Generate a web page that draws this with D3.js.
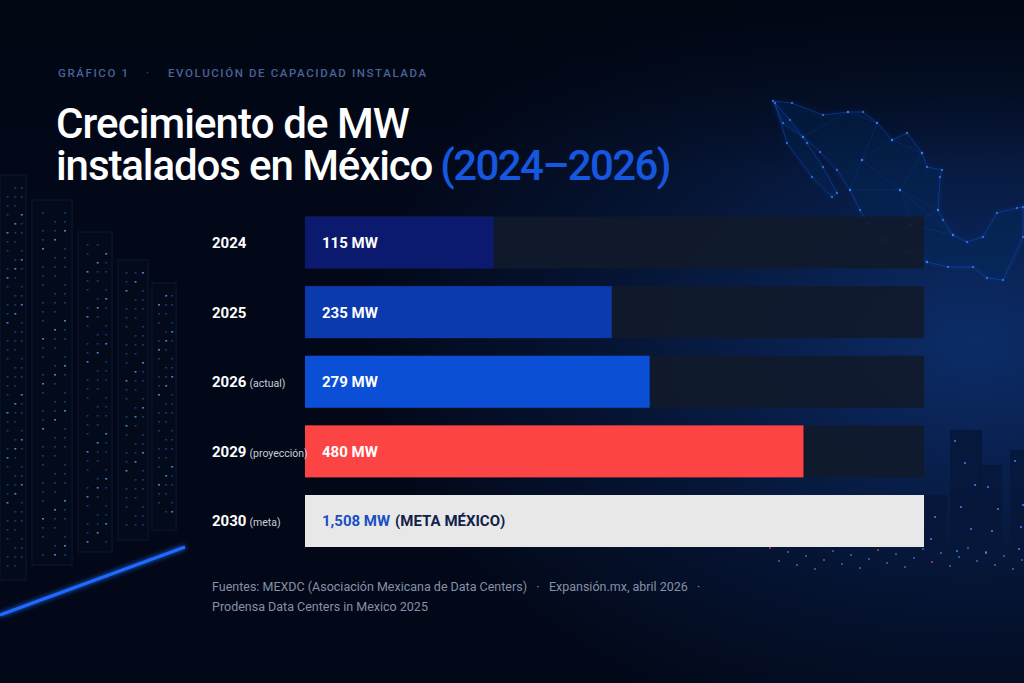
<!DOCTYPE html>
<html>
<head>
<meta charset="utf-8">
<script src="https://cdn.jsdelivr.net/npm/d3@7"></script>
<style>
  html, body { margin: 0; padding: 0; background: #020818; }
  svg { display: block; font-family: Roboto, "Noto Sans", sans-serif; }
  .pre { white-space: pre; }
</style>
</head>
<body>
<div id="chart"></div>
<script>
// data
var years = ['2024', '2025', '2026', '2029', '2030']
var yearNotes = ['', '', '(actual)', '(proyección)', '(meta)']
var valuesMW = [115, 235, 279, 480, 1508]
var valueLabels = ['115 MW', '235 MW', '279 MW', '480 MW', '1,508 MW']
var valueNotes = ['', '', '', '', '(META MÉXICO)']
var barColors = ['#0b1a6e', '#0a3aae', '#0a4fd6', '#fd4444', '#e8e8e8']

var W = 1024, H = 683

var svg = d3.select('#chart')
  .append('svg')
  .attr('width', W)
  .attr('height', H)

var defs = svg.append('defs')

// ---- background ----
var bg = defs.append('radialGradient').attr('id', 'bgGlow')
  .attr('cx', 0.95).attr('cy', 0.5).attr('r', 0.6)
bg.append('stop').attr('offset', 0).attr('stop-color', '#0c2c68')
bg.append('stop').attr('offset', 0.55).attr('stop-color', '#061637')
bg.append('stop').attr('offset', 1).attr('stop-color', '#020818')

svg.append('rect').attr('width', W).attr('height', H).attr('fill', '#020818')
svg.append('rect').attr('width', W).attr('height', H).attr('fill', 'url(#bgGlow)')

var topShade = defs.append('linearGradient').attr('id', 'topShade')
  .attr('x1', 0).attr('x2', 0).attr('y1', 0).attr('y2', 1)
topShade.append('stop').attr('offset', 0).attr('stop-color', '#010612').attr('stop-opacity', 0.9)
topShade.append('stop').attr('offset', 0.25).attr('stop-color', '#010612').attr('stop-opacity', 0)
svg.append('rect').attr('width', W).attr('height', H).attr('fill', 'url(#topShade)')

var glow = defs.append('filter').attr('id', 'glow')
  .attr('x', '-50%').attr('y', '-50%').attr('width', '200%').attr('height', '200%')
glow.append('feGaussianBlur').attr('stdDeviation', 2.5).attr('result', 'b')
var gm = glow.append('feMerge')
gm.append('feMergeNode').attr('in', 'b')
gm.append('feMergeNode').attr('in', 'SourceGraphic')

var deco = svg.append('g').attr('class', 'deco')

// map of Mexico top right (decoration, rough outline)
var mainland = [[773,101],[792,103],[823,115],[848,112],[863,112],[877,123],[892,140],[907,133],
  [922,153],[927,167],[942,170],[940,177],[938,210],[943,220],[953,235],[967,242],[983,237],
  [997,213],[1017,208],[1023,207],[1023,237],[1003,280],[987,278],[973,267],[948,267],[927,262],
  [907,252],[883,240],[867,223],[860,210],[850,190],[837,170],[820,152],[803,137],[783,123]]
var baja = [[775,103],[787,143],[812,177],[832,197],[837,193],[823,167],[807,143],[790,120]]
var inner = [[803,137],[848,112],[877,123],[862,160],[892,140],[922,153],[900,190],[862,160],
  [850,190],[900,190],[938,210],[910,225],[883,240],[910,225],[953,235],[900,190],[927,262]]
;[mainland, baja].forEach(function(pts) {
  deco.append('path')
    .attr('d', d3.line().curve(d3.curveLinearClosed)(pts))
    .attr('fill', '#0a2458').attr('fill-opacity', 0.2)
    .attr('stroke', '#1d5ad8').attr('stroke-opacity', 0.4).attr('stroke-width', 0.9)
    .attr('filter', 'url(#glow)')
})
deco.append('path')
  .attr('d', d3.line()(inner))
  .attr('fill', 'none').attr('stroke', '#1d5ad8').attr('stroke-opacity', 0.22).attr('stroke-width', 0.7)
deco.selectAll('.mapdot')
  .data(mainland.concat(baja, inner))
  .enter().append('circle')
  .attr('cx', function(d) { return d[0] }).attr('cy', function(d) { return d[1] })
  .attr('r', 1.2).attr('fill', '#3f86ff').attr('opacity', 0.7)

// server racks on the left (decoration)
var racks = [
  {x0: 0, x1: 26, top: 175, bot: 580},
  {x0: 32, x1: 72, top: 200, bot: 565},
  {x0: 78, x1: 112, top: 232, bot: 552},
  {x0: 118, x1: 148, top: 260, bot: 540},
  {x0: 152, x1: 176, top: 283, bot: 530}
]
racks.forEach(function(r, i) {
  deco.append('rect')
    .attr('x', r.x0).attr('y', r.top)
    .attr('width', r.x1 - r.x0).attr('height', r.bot - r.top)
    .attr('fill', '#030a1a').attr('stroke', '#08152e').attr('stroke-width', 1.5)
  for (var y = r.top + 12, k = 0; y < r.bot - 10; y += 9, k++) {
    var cols = [0.25, 0.55, 0.8]
    cols.forEach(function(c, j) {
      if ((k * 7 + j * 3 + i * 5) % 4 === 0) return
      deco.append('rect')
        .attr('x', r.x0 + (r.x1 - r.x0) * c).attr('y', y)
        .attr('width', 2).attr('height', 1.6)
        .attr('fill', (k + j + i) % 5 === 0 ? '#4aa0ff' : '#17448c')
        .attr('opacity', 0.8)
    })
  }
})
deco.append('line')
  .attr('x1', 0).attr('y1', 615).attr('x2', 185).attr('y2', 547)
  .attr('stroke', '#1f6bff').attr('stroke-width', 3)
  .attr('filter', 'url(#glow)')

// city skyline lower right (decoration)
var towers = [
  {x: 950, w: 32, top: 430},
  {x: 978, w: 24, top: 465},
  {x: 1010, w: 20, top: 450},
  {x: 925, w: 22, top: 495}
]
towers.forEach(function(t, i) {
  deco.append('rect').attr('x', t.x).attr('y', t.top)
    .attr('width', t.w).attr('height', 560 - t.top)
    .attr('fill', '#07173a').attr('opacity', 0.9)
  for (var y = t.top + 10, k = 0; y < 555; y += 11, k++) {
    if ((k + i) % 2 === 0) {
      deco.append('rect').attr('x', t.x + 4 + (k * 5 % (t.w - 8))).attr('y', y)
        .attr('width', 2).attr('height', 2).attr('fill', '#3a7cff').attr('opacity', 0.8)
    }
  }
})
for (var cx = 770, n = 0; cx < 1024; cx += 9, n++) {
  deco.append('circle')
    .attr('cx', cx).attr('cy', 548 + (n * 13 % 22))
    .attr('r', 1).attr('fill', n % 6 === 0 ? '#ff5a4a' : '#4d8cff')
    .attr('opacity', 0.7)
}

// ---- header ----
svg.append('text')
  .attr('x', 58).attr('y', 77)
  .attr('font-size', 11.5).attr('letter-spacing', 1.6)
  .attr('font-weight', 500)
  .attr('fill', '#4a6295')
  .text('GRÁFICO 1')
svg.append('text')
  .attr('x', 146).attr('y', 77)
  .attr('font-size', 11.5).attr('fill', '#4a6295')
  .text('·')
svg.append('text')
  .attr('x', 168).attr('y', 77)
  .attr('font-size', 11.5).attr('letter-spacing', 1.6)
  .attr('font-weight', 500)
  .attr('fill', '#4a6295')
  .text('EVOLUCIÓN DE CAPACIDAD INSTALADA')

svg.append('text')
  .attr('x', 56).attr('y', 138)
  .attr('font-size', 42).attr('font-weight', 500).attr('letter-spacing', -0.9)
  .attr('fill', '#ffffff')
  .text('Crecimiento de MW')
var t2 = svg.append('text')
  .attr('x', 56).attr('y', 180)
  .attr('font-size', 42).attr('font-weight', 500).attr('letter-spacing', -1.1)
  .attr('fill', '#ffffff')
t2.append('tspan').text('instalados en México')
t2.append('tspan').attr('dx', 8).attr('letter-spacing', -1.6)
  .attr('fill', '#1657e0').text('(2024–2026)')

// ---- chart ----
var x0 = 305, trackW = 619

var y_scale = d3.scaleBand()
  .domain(years)
  .range([216.5, 547])
  .paddingInner(0.253)

var x_scale = d3.scalePow()
  .exponent(0.68)
  .domain([0, 660])
  .range([0, trackW])
  .clamp(true)

var rows = svg.selectAll('.row')
  .data(years)
  .enter()
  .append('g')
  .attr('class', 'row')
  .attr('transform', function(d) { return 'translate(0,' + y_scale(d) + ')' })

rows.append('rect')
  .attr('x', x0).attr('y', 0)
  .attr('width', trackW)
  .attr('height', y_scale.bandwidth())
  .attr('fill', '#111a2b')
  .attr('opacity', 0.92)

rows.append('rect')
  .attr('x', x0).attr('y', 0)
  .attr('width', function(d, i) { return x_scale(valuesMW[i]) })
  .attr('height', y_scale.bandwidth())
  .attr('fill', function(d, i) { return barColors[i] })

// year labels
var yl = rows.append('text')
  .attr('x', 212)
  .attr('y', y_scale.bandwidth() / 2 + 5.5)
  .attr('fill', '#ffffff')
yl.append('tspan')
  .attr('font-size', 15).attr('font-weight', 700)
  .text(function(d) { return d })
yl.append('tspan')
  .attr('font-size', 10.5).attr('fill', '#c9ceda')
  .attr('dx', 3)
  .text(function(d, i) { return yearNotes[i] })

// value labels
var vl = rows.append('text')
  .attr('x', x0 + 17)
  .attr('y', y_scale.bandwidth() / 2 + 5.5)
  .attr('font-size', 15).attr('font-weight', 700)
vl.append('tspan')
  .attr('fill', function(d, i) { return i === 4 ? '#1a4fc4' : '#ffffff' })
  .text(function(d, i) { return valueLabels[i] })
vl.append('tspan')
  .attr('fill', '#13204a')
  .attr('dx', 5)
  .text(function(d, i) { return valueNotes[i] })

// ---- sources ----
var src = svg.append('text')
  .attr('class', 'pre')
  .attr('font-size', 12.5).attr('fill', '#8790a6')
src.append('tspan').attr('x', 212).attr('y', 591)
  .text('Fuentes: MEXDC (Asociación Mexicana de Data Centers)   ·   Expansión.mx, abril 2026   ·')
src.append('tspan').attr('x', 212).attr('y', 611)
  .text('Prodensa Data Centers in Mexico 2025')
</script>
</body>
</html>
